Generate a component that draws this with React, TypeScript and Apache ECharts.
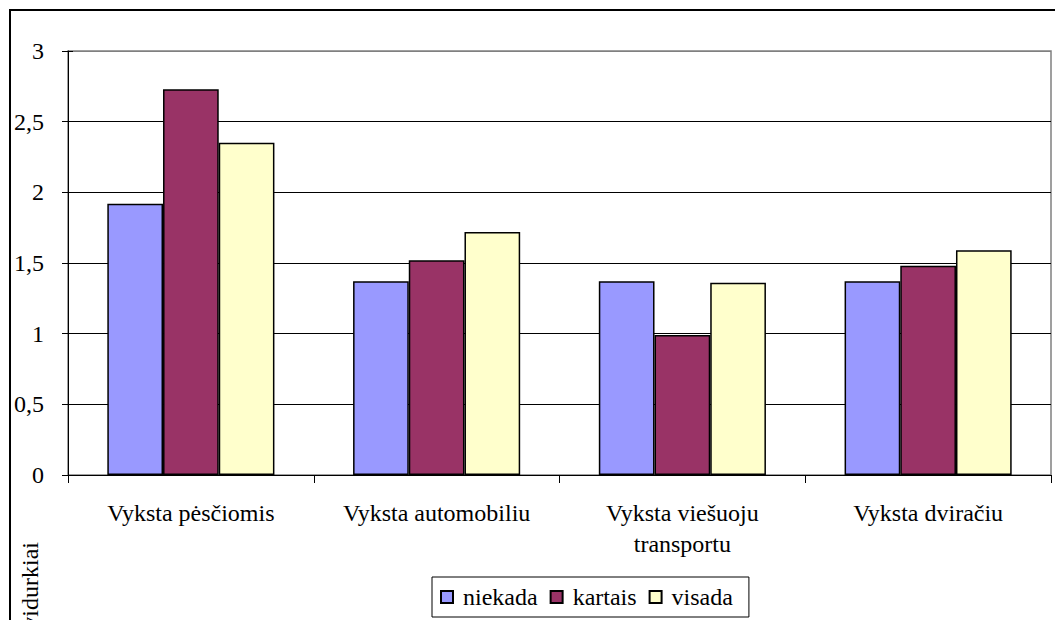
import React, { useEffect, useRef } from "react";
import * as echarts from "echarts";

const categories = [
  "Vyksta pėsčiomis",
  "Vyksta automobiliu",
  "Vyksta viešuoju\ntransportu",
  "Vyksta dviračiu",
];
const niekada = [1.92, 1.37, 1.37, 1.37];
const kartais = [2.73, 1.52, 0.99, 1.48];
const visada = [2.35, 1.72, 1.36, 1.59];
const seriesNames = ["niekada", "kartais", "visada"];
const seriesColors = ["#9999FF", "#993366", "#FFFFCC"];
const yTitle = "vidurkiai";
const yMin = 0;
const yMax = 3;
const yStep = 0.5;

const FONT = "serif";
const FS = 24;

export default function App() {
  const ref = useRef<HTMLDivElement>(null);
  useEffect(() => {
    if (!ref.current) return;
    const chart = echarts.init(ref.current, null, { renderer: "svg" });
    const values = [niekada, kartais, visada];
    chart.setOption({
      animation: false,
      backgroundColor: "#fff",
      textStyle: { fontFamily: FONT, color: "#000", fontSize: FS },
      grid: {
        left: 68,
        top: 51,
        right: 4,
        bottom: 145,
        outerBoundsMode: "none",
        containLabel: false,
        show: true,
        borderColor: "#808080",
        borderWidth: 1.5,
        backgroundColor: "#fff",
      },
      legend: {
        data: seriesNames,
        left: 432,
        top: 577,
        orient: "horizontal",
        icon: "rect",
        itemWidth: 12,
        itemHeight: 12,
        itemGap: 12,
        padding: [8, 16, 8, 8],
        borderColor: "#000",
        borderWidth: 1,
        textStyle: { fontFamily: FONT, fontSize: FS, color: "#000", padding: [0, 0, 0, 5] },
      },
      xAxis: {
        type: "category",
        data: categories,
        axisLine: { lineStyle: { color: "#000", width: 1 } },
        axisTick: { show: true, length: 8, lineStyle: { color: "#000" } },
        axisLabel: {
          fontFamily: FONT,
          fontSize: FS,
          color: "#000",
          margin: 22,
          lineHeight: 31,
          interval: 0,
        },
      },
      yAxis: [
        {
          type: "value",
          min: yMin,
          max: yMax,
          interval: yStep,
          axisLine: { show: true, lineStyle: { color: "#000", width: 1 } },
          axisTick: { show: true, length: 6, lineStyle: { color: "#000" } },
          axisLabel: {
            fontFamily: FONT,
            fontSize: FS,
            color: "#000",
            margin: 24,
            formatter: (v: number) => String(v).replace(".", ","),
          },
          splitLine: {
            show: true,
            lineStyle: { color: ["#000", "#000", "#000", "#000", "#000", "#000", "#808080"], width: 1 },
          },
        },
        {
          type: "value",
          position: "left",
          min: yMin,
          max: yMax,
          interval: yStep,
          axisLine: { show: false },
          axisTick: { show: true, inside: true, length: 5, lineStyle: { color: "#000" } },
          axisLabel: { show: false },
          splitLine: { show: false },
        },
      ],
      series: seriesNames.map((name, i) => ({
        name,
        type: "bar",
        yAxisIndex: 0,
        data: values[i],
        barGap: "0%",
        barCategoryGap: "32%",
        itemStyle: { color: seriesColors[i], borderColor: "#000", borderWidth: 1.5 },
      })),
      graphic: [
        {
          type: "rect",
          shape: { x: 10, y: 10, width: 2000, height: 2000 },
          style: { fill: "none", stroke: "#000", lineWidth: 2 },
          silent: true,
        },
        {
          type: "text",
          x: 30,
          y: 542,
          rotation: Math.PI / 2,
          style: {
            text: yTitle,
            fontFamily: FONT,
            fontSize: FS,
            fill: "#000",
            align: "right",
            verticalAlign: "middle",
          },
        },
      ],
    });
    return () => chart.dispose();
  }, []);
  return (
    <div
      ref={ref}
      style={{ position: "absolute", left: 0, top: 0, width: 1055, height: 620 }}
    />
  );
}
